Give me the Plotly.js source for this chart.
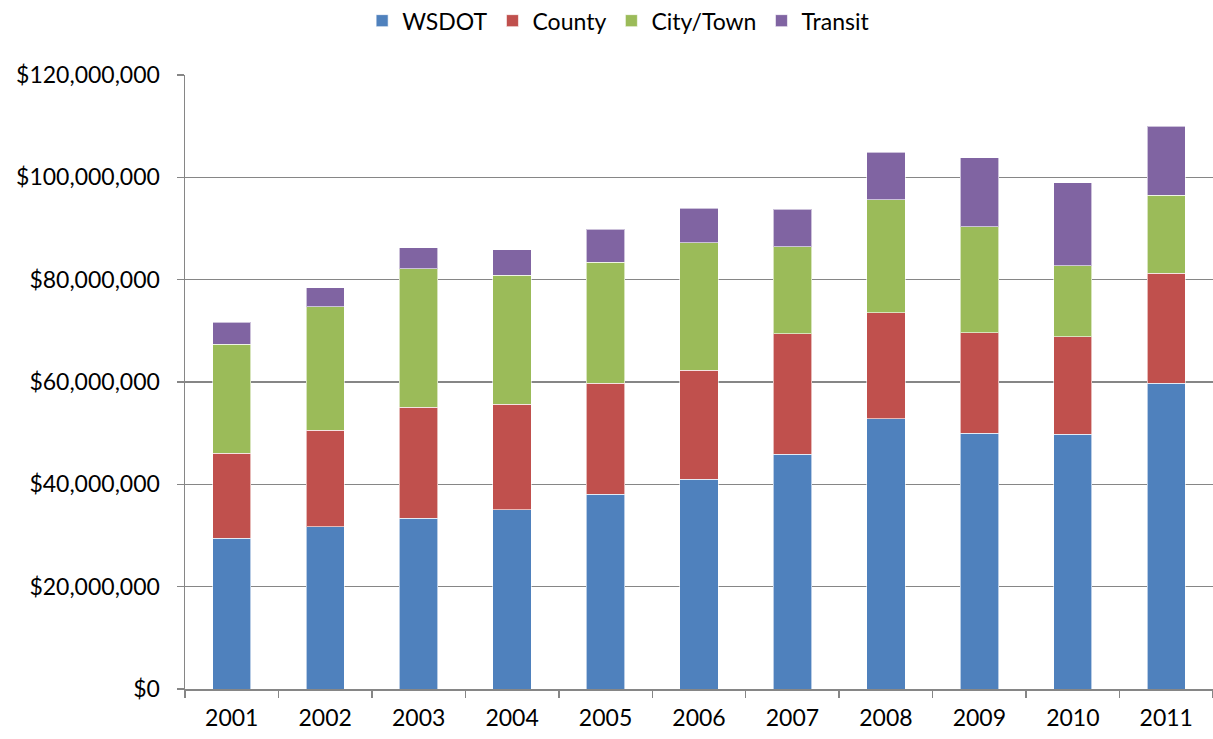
<!DOCTYPE html>
<html>
<head>
<meta charset="utf-8">
<script src="https://cdn.plot.ly/plotly-3.0.1.min.js"></script>
<style>html,body{margin:0;padding:0;background:#fff;}#chart{width:1213px;height:739px;}</style>
</head>
<body>
<div id="chart"></div>
<script>
const years = ["2001","2002","2003","2004","2005","2006","2007","2008","2009","2010","2011"];
const wsdot   = [29.5, 31.7, 33.4, 35.0, 38.1, 41.0, 45.9, 52.8, 50.0, 49.8, 59.8];
const county  = [16.6, 18.9, 21.7, 20.7, 21.7, 21.3, 23.5, 20.7, 19.6, 19.0, 21.5];
const cityTown= [21.3, 24.1, 27.0, 25.2, 23.6, 24.9, 17.0, 22.1, 20.7, 13.9, 15.2];
const transit = [4.3, 3.7, 4.1, 4.9, 6.5, 6.8, 7.4, 9.3, 13.5, 16.2, 13.5];
const seriesNames = ["WSDOT","County","City/Town","Transit"];
const colors = ["#4F81BD","#C0504D","#9BBB59","#8064A2"];
const M = 1e6;
const data = [wsdot, county, cityTown, transit].map((vals, i) => ({
  type: "bar",
  name: seriesNames[i],
  x: years,
  y: vals.map(v => v * M),
  marker: {color: colors[i], line: {color: "rgba(255,255,255,0.6)", width: 1}},
  hoverinfo: "x+y+name"
}));
const font = {family: "Lato, 'Open Sans', sans-serif", size: 23, color: "#000"};
const layout = {
  width: 1213, height: 739,
  margin: {l: 185, r: 0, t: 75, b: 50, autoexpand: false},
  barmode: "stack",
  bargap: 0.59,
  paper_bgcolor: "#fff",
  plot_bgcolor: "#fff",
  font: font,
  showlegend: true,
  legend: {orientation: "h", xref: "container", yref: "container", x: 0.51, xanchor: "center", y: 0.972, yanchor: "middle", font: font, traceorder: "normal", itemwidth: 20},
  xaxis: {
    type: "category",
    showline: true, linecolor: "#868686", linewidth: 1.5,
    ticks: "outside", tickson: "boundaries", ticklen: 7, tickcolor: "#868686", tickwidth: 1.5,
    ticklabelstandoff: 8,
    tickfont: font, showgrid: false, zeroline: false
  },
  yaxis: {
    range: [0, 120e6], dtick: 20e6,
    tickprefix: "$", tickformat: ",d",
    showline: true, linecolor: "#868686", linewidth: 1.5,
    ticks: "outside", ticklen: 7, tickcolor: "#868686", tickwidth: 1.5,
    ticklabelstandoff: 12,
    showgrid: true, gridcolor: "#868686", gridwidth: 1.5,
    zeroline: false, tickfont: font
  }
};
Plotly.newPlot("chart", data, layout, {displayModeBar: false, staticPlot: true});
</script>
</body>
</html>
